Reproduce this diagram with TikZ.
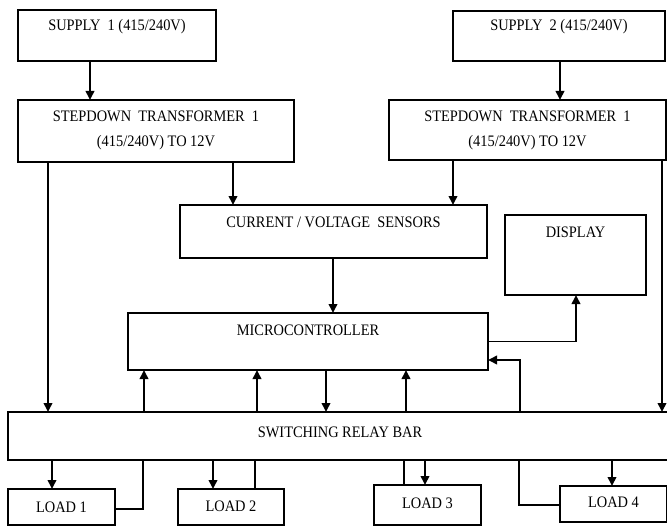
\documentclass[tikz,border=0pt]{standalone}
\usepackage{fontspec}
\setmainfont{Liberation Serif}
\newfontfamily\condfont[FakeStretch=0.9]{Liberation Serif}
\usetikzlibrary{arrows.meta}
\begin{document}
\begin{tikzpicture}[x=1pt,y=-1pt,
  box/.style={draw, line width=2.2pt, inner sep=0pt, outer sep=0pt},
  txt/.style={font=\condfont\fontsize{16}{24.5}\selectfont, inner sep=0pt, align=center},
  arr/.style={line width=1.9pt, -{Triangle[length=9pt,width=8.5pt]}},
  ln/.style={line width=1.9pt}]
\useasboundingbox (0,0) rectangle (667,527);
% boxes
\node[box, minimum width=198pt, minimum height=51pt] (s1) at (117,35.5) {};
\node[box, minimum width=212pt, minimum height=50pt] (s2) at (559,36) {};
\node[box, minimum width=276pt, minimum height=62pt] (t1) at (156,131) {};
\node[box, minimum width=277pt, minimum height=60pt] (t2) at (527.5,130) {};
\node[box, minimum width=307pt, minimum height=53pt] (cv) at (333.5,231.5) {};
\node[box, minimum width=141pt, minimum height=80pt] (disp) at (575.5,255) {};
\node[box, minimum width=360pt, minimum height=57pt] (mc) at (308,341.5) {};
\node[box, minimum width=660pt, minimum height=48pt] (bar) at (338,436) {};
\node[box, minimum width=107pt, minimum height=36pt] (l1) at (61.5,507) {};
\node[box, minimum width=106pt, minimum height=36pt] (l2) at (231,507) {};
\node[box, minimum width=107pt, minimum height=40pt] (l3) at (427.5,505) {};
\node[box, minimum width=107pt, minimum height=36pt] (l4) at (613.5,504) {};
% texts
\node[txt] (ts1) at (117,27) {SUPPLY\ \ 1 (415/240V)};
\node[txt] (ts2) at (559,27) {SUPPLY\ \ 2 (415/240V)};
\node[txt] (tt1) at (156,130.5) {STEPDOWN\ \ TRANSFORMER\ \ 1\\(415/240V) TO 12V};
\node[txt] (tt2) at (527.5,130.5) {STEPDOWN\ \ TRANSFORMER\ \ 1\\(415/240V) TO 12V};
\node[txt] (tcv) at (333.5,222) {CURRENT / VOLTAGE\ \ SENSORS};
\node[txt] (tdisp) at (575.5,232) {DISPLAY};
\node[txt] (tmc) at (308,330) {MICROCONTROLLER};
\node[txt] (tbar) at (340,432) {SWITCHING RELAY BAR};
\node[txt] (tl1) at (61.5,507) {LOAD 1};
\node[txt] (tl2) at (231,506) {LOAD 2};
\node[txt] (tl3) at (427.5,503) {LOAD 3};
\node[txt] (tl4) at (613.5,502) {LOAD 4};
% helper coordinates
\coordinate (xa) at (90,0);
\coordinate (xb) at (560,0);
\coordinate (xc) at (233,0);
\coordinate (xd) at (453,0);
\coordinate (xe) at (48,0);
\coordinate (xf) at (662,0);
\coordinate (xg) at (333,0);
\coordinate (xh) at (576,0);
\coordinate (xi) at (520,0);
\coordinate (yi) at (0,360);
\coordinate (u1) at (144,0);
\coordinate (u2) at (257,0);
\coordinate (u3) at (326,0);
\coordinate (u4) at (406,0);
\coordinate (d1) at (52,0);
\coordinate (r1) at (143,0);
\coordinate (y1) at (0,509);
\coordinate (d2) at (213,0);
\coordinate (r2) at (255,0);
\coordinate (r3) at (404,0);
\coordinate (d3) at (425,0);
\coordinate (d4) at (612,0);
\coordinate (r4) at (519,0);
\coordinate (y4) at (0,505);
% connectors
\draw[arr] (s1.south -| xa) -- (t1.north -| xa);
\draw[arr] (s2.south -| xb) -- (t2.north -| xb);
\draw[arr] (t1.south -| xc) -- (cv.north -| xc);
\draw[arr] (t2.south -| xd) -- (cv.north -| xd);
\draw[arr] (t1.south -| xe) -- (bar.north -| xe);
\draw[arr] (t2.south -| xf) -- (bar.north -| xf);
\draw[arr] (cv.south -| xg) -- (mc.north -| xg);
\draw[arr] (mc.east) -| (disp.south -| xh);
\draw[arr] (bar.north -| xi) |- (mc.east |- yi);
\draw[arr] (bar.north -| u1) -- (mc.south -| u1);
\draw[arr] (bar.north -| u2) -- (mc.south -| u2);
\draw[arr] (mc.south -| u3) -- (bar.north -| u3);
\draw[arr] (bar.north -| u4) -- (mc.south -| u4);
\draw[arr] (bar.south -| d1) -- (l1.north -| d1);
\draw[ln] (l1.east |- y1) -| (bar.south -| r1);
\draw[arr] (bar.south -| d2) -- (l2.north -| d2);
\draw[ln] (l2.north -| r2) -- (bar.south -| r2);
\draw[ln] (bar.south -| r3) -- (l3.north -| r3);
\draw[arr] (bar.south -| d3) -- (l3.north -| d3);
\draw[arr] (bar.south -| d4) -- (l4.north -| d4);
\draw[ln] (l4.west |- y4) -| (bar.south -| r4);
\end{tikzpicture}
\end{document}
